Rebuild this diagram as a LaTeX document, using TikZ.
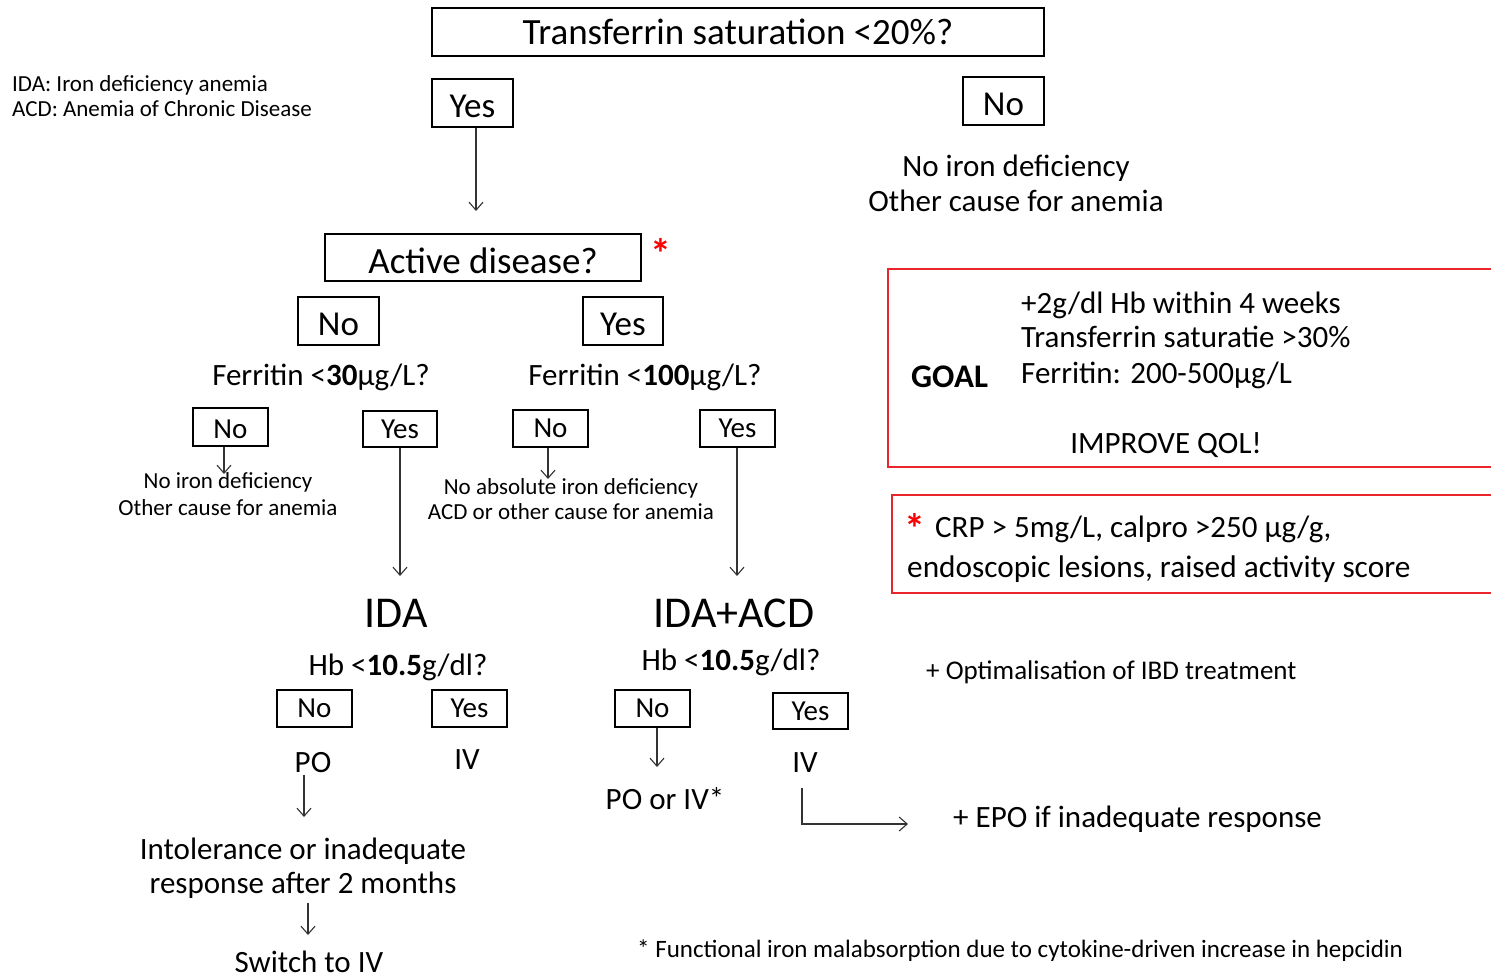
\documentclass[tikz,border=0pt]{standalone}
\usepackage{fontspec}
\setmainfont{Carlito}
\usetikzlibrary{arrows.meta}
\definecolor{boxred}{RGB}{232,38,44}
\begin{document}
\begin{tikzpicture}[x=1pt,y=-1pt,
 bx/.style={draw=black, line width=1.3pt, inner sep=0pt},
 low/.style={text height=#1, text depth=0pt},
 redline/.style={draw=boxred, line width=1.3pt},
 arr/.style={draw=black!80, line width=1.1pt, -{Straight Barb[length=8pt,width=14pt,line width=1.1pt]}},
 fA/.style={font=\fontsize{37}{44}\selectfont},
 fY/.style={font=\fontsize{35}{42}\selectfont},
 fB/.style={font=\fontsize{31}{37}\selectfont},
 fC/.style={font=\fontsize{23}{28}\selectfont},
 fD/.style={font=\fontsize{44}{52}\selectfont},
 fE/.style={font=\fontsize{29}{35}\selectfont},
 fS/.style={font=\fontsize{42}{50}\selectfont\bfseries},
 lbl/.style={inner sep=0pt, anchor=base},
 lblw/.style={inner sep=0pt, anchor=base west},
]
\useasboundingbox (0,0) rectangle (1491,977);
\fill[white] (0,0) rectangle (1491,977);

% boxes
\node[bx, fA, minimum width=612pt, minimum height=48pt] (q1) at (738,32) {Transferrin saturation <20\%?};
\node[bx, fY, low=28.5pt, minimum width=81pt, minimum height=48pt] (yes1) at (472.5,103) {Yes};
\node[bx, fY, low=28.5pt, minimum width=81pt, minimum height=48pt] (no1) at (1003.5,101) {No};
\node[bx, fA, low=31.5pt, minimum width=316pt, minimum height=47pt] (ad) at (483,257.5) {Active disease?};
\node[bx, fY, low=28.5pt, minimum width=81pt, minimum height=48pt] (no2) at (338.5,321) {No};
\node[bx, fY, low=28.5pt, minimum width=80pt, minimum height=48pt] (yes2) at (623,321) {Yes};
\node[bx, fE, low=22.5pt, minimum width=75pt, minimum height=38pt] (no3) at (230.5,427) {No};
\node[bx, fE, minimum width=74pt, minimum height=36pt] (yes3) at (400,429) {Yes};
\node[bx, fE, minimum width=75pt, minimum height=37pt] (no4) at (550.5,428.5) {No};
\node[bx, fE, minimum width=75pt, minimum height=37pt] (yes4) at (737.5,428.5) {Yes};
\node[bx, fE, minimum width=75pt, minimum height=37pt] (no5) at (314.5,708.5) {No};
\node[bx, fE, minimum width=75pt, minimum height=37pt] (yes5) at (469.5,708.5) {Yes};
\node[bx, fE, minimum width=75pt, minimum height=37pt] (no6) at (652.5,708.5) {No};
\node[bx, fE, minimum width=75pt, minimum height=36pt] (yes6) at (810.5,711) {Yes};

% red boxes (open to the right edge)
\draw[redline] (1500,269) -- (888,269) -- (888,467) -- (1500,467);
\draw[redline] (1500,495) -- (892,495) -- (892,593) -- (1500,593);

% texts
\node[lblw, fC] (leg1) at (12,91) {IDA: Iron deficiency anemia};
\node[lblw, fC] (leg2) at (12,116) {ACD: Anemia of Chronic Disease};

\node[lbl, fB] (nid1) at (1016,176) {No iron deficiency};
\node[lbl, fB] (oc1) at (1016,211) {Other cause for anemia};

\node[inner sep=0pt, fS, text=red] (ast1) at (661,253) {*};

\node[lbl, fB] (fer1) at (321,385) {Ferritin <{\bfseries 30}µg/L?};
\node[lbl, fB] (fer2) at (645,385) {Ferritin <{\bfseries 100}µg/L?};

\node[lbl, fC] (nid2) at (228,488) {No iron deficiency};
\node[lbl, fC] (oc2) at (228,515) {Other cause for anemia};
\node[lbl, fC] (nab) at (571,494) {No absolute iron deficiency};
\node[lbl, fC] (acd) at (571,519) {ACD or other cause for anemia};

\node[lbl, fD] (ida) at (396,627) {IDA};
\node[lbl, fD] (idaacd) at (734,627) {IDA+ACD};

\node[lbl, fB] (hb1) at (398,675) {Hb <{\bfseries 10.5}g/dl?};
\node[lbl, fB] (hb2) at (731,670) {Hb <{\bfseries 10.5}g/dl?};

\node[lbl, fB] (po) at (313,772) {PO};
\node[lbl, fB] (iv1) at (467,769) {IV};
\node[lbl, fB] (iv2) at (805,772) {IV};
\node[lbl, fB] (poiv) at (665,809) {PO or IV*};

\node[lbl, fB] (intol) at (303,859) {Intolerance or inadequate};
\node[lbl, fB] (resp) at (303,893) {response after 2 months};
\node[lbl, fB] (sw) at (309,972) {Switch to IV};

\node[lblw, fB] (epo) at (953,827) {+ EPO if inadequate response};
\node[lblw, font=\fontsize{27}{32}\selectfont] (opt) at (926,679) {+ Optimalisation of IBD treatment};

\node[lblw, font=\fontsize{33}{40}\selectfont\bfseries] (goal) at (911,387) {GOAL};
\node[lblw, fB] (g1) at (1021,313) {+2g/dl Hb within 4 weeks};
\node[lblw, fB] (g2) at (1021,347) {Transferrin saturatie >30\%};
\node[lblw, fB] (g3) at (1021,383) {Ferritin: 200-500µg/L};
\node[lbl, fB] (qol) at (1166,453) {IMPROVE QOL!};

\node[inner sep=0pt, fS, text=red] (ast2) at (915,528) {*};
\node[lblw, fB] (crp) at (935,537) {CRP > 5mg/L, calpro >250 µg/g,};
\node[lblw, font=\fontsize{31.3}{37}\selectfont] (endo) at (907,577) {endoscopic lesions, raised activity score};

\node[lblw, font=\fontsize{25}{30}\selectfont] (foot) at (637,957) {* Functional iron malabsorption due to cytokine-driven increase in hepcidin};

% arrow end points
\coordinate (a1) at (476,211);
\coordinate (a2) at (224,474);
\coordinate (a3) at (400,576);
\coordinate (a4) at (548,479);
\coordinate (a5) at (737,576);
\coordinate (a6) at (304,817);
\coordinate (a7) at (308,935);
\coordinate (a8) at (657,767);
\coordinate (a9) at (908,824);

% connectors
\draw[arr] (yes1.south -| a1) -- (a1);
\draw[arr] (no3.south -| a2) -- (a2);
\draw[arr] (yes3.south -| a3) -- (a3);
\draw[arr] (no4.south -| a4) -- (a4);
\draw[arr] (yes4.south -| a5) -- (a5);
\draw[arr] ([yshift=-3pt]po.south -| a6) -- (a6);
\draw[arr] ([yshift=-5pt]resp.south -| a7) -- (a7);
\draw[arr] (no6.south -| a8) -- (a8);
\draw[arr] ([xshift=-3pt,yshift=-16pt]iv2.south) |- (a9);
\end{tikzpicture}
\end{document}
